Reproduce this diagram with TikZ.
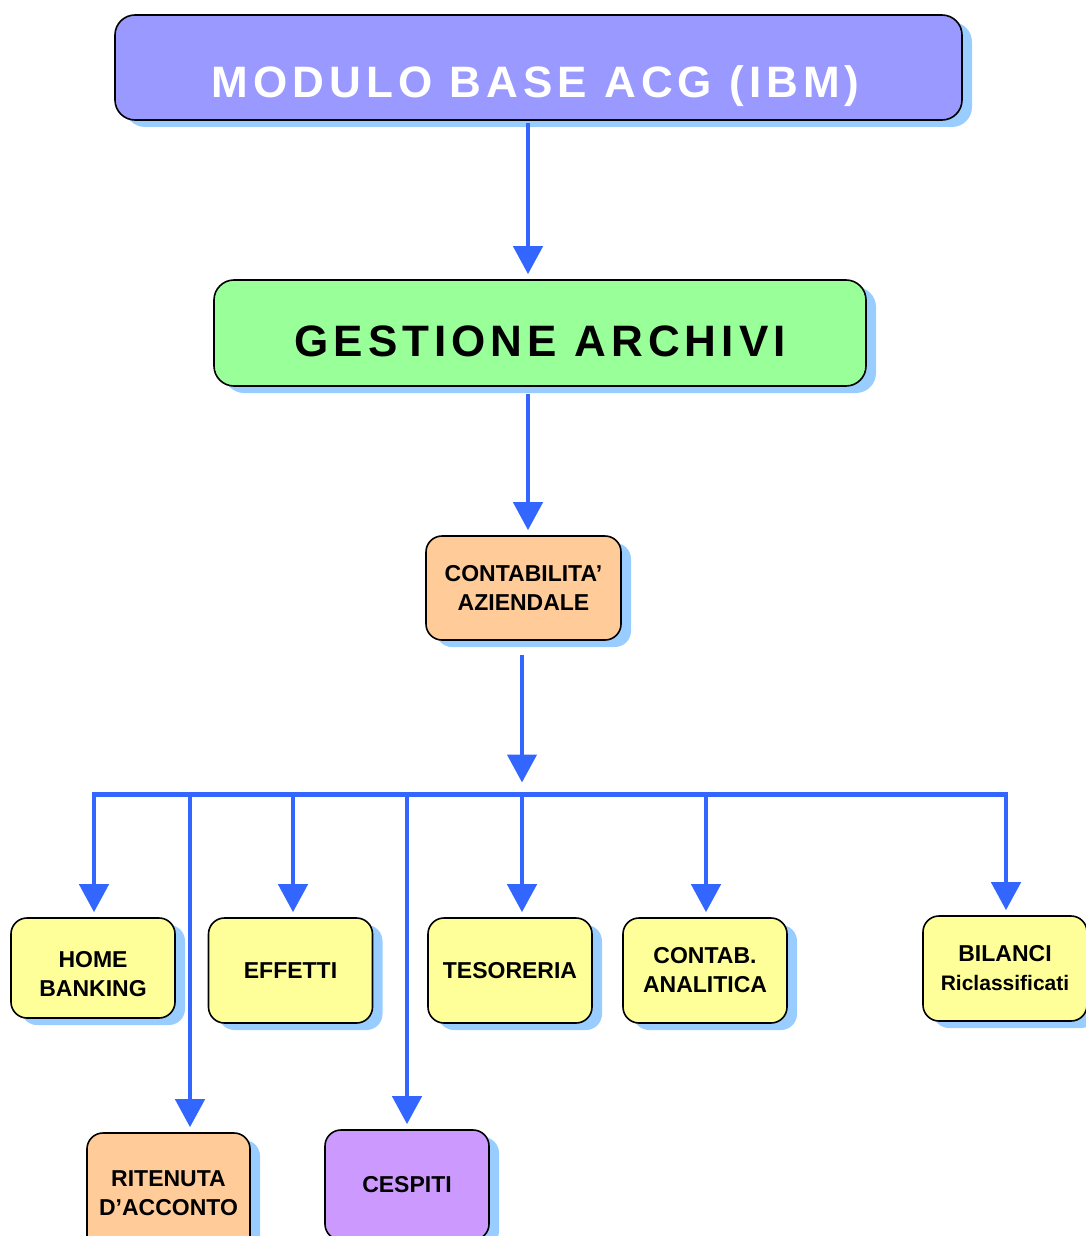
\documentclass[tikz,border=0pt]{standalone}
\usepackage{fontspec}
\setmainfont{Liberation Sans}
\usetikzlibrary{arrows.meta, shadows, positioning}
\definecolor{titleblue}{HTML}{9999FF}
\definecolor{archgreen}{HTML}{99FF99}
\definecolor{contorange}{HTML}{FFCC99}
\definecolor{leafyellow}{HTML}{FFFF99}
\definecolor{cespurple}{HTML}{CC99FF}
\definecolor{shadowblue}{HTML}{99CCFF}
\definecolor{arrowblue}{HTML}{3366FF}
\tikzset{
  box/.style={
    rectangle, draw=black, line width=1.6pt, rounded corners=16pt,
    minimum width=164pt, minimum height=105pt, align=center,
    font=\fontsize{23}{29}\selectfont\bfseries,
    drop shadow={shadow xshift=10pt, shadow yshift=-7pt, fill=shadowblue, opacity=1}
  },
  leaf/.style={box, fill=leafyellow},
  title/.style={box, rounded corners=20pt, inner sep=0pt,
    font=\fontsize{44}{50}\selectfont\bfseries\addfontfeature{LetterSpace=11.5}},
  edge/.style={-{Triangle[length=28pt, width=29pt]}, line width=4.5pt, draw=arrowblue, shorten >=5pt},
  bus/.style={line width=4.5pt, draw=arrowblue, line cap=rect}
}

\begin{document}
\begin{tikzpicture}[x=1pt, y=-1pt]
    \useasboundingbox (0,0) rectangle (1085,1236);
    \node[title, fill=titleblue, text=white, minimum width=847pt, text height=83pt, text depth=22pt] (top) at (538.5,67.5) {MODULO BASE ACG (IBM)\hspace{6pt}};
    \node[title, fill=archgreen, minimum width=652pt, text height=76pt, text depth=30pt] (arch) at (540,333) {GESTIONE ARCHIVI};
    \node[box, fill=contorange, minimum width=195pt, minimum height=104pt] (cont) at (523.5,588) {CONTABILITA’\\AZIENDALE};
    \node[leaf, minimum height=100pt, text height=57pt, text depth=0pt] (home) at (93,968) {HOME\\BANKING};
    \node[leaf] (eff) at (290.5,970.5) {EFFETTI};
    \node[leaf] (tes) at (510,970.5) {TESORERIA};
    \node[leaf] (ana) at (705,970.5) {CONTAB.\\ANALITICA};
    \node[leaf] (bil) at (1005,968.5) {BILANCI\\{\fontsize{21}{24}\selectfont Riclassificati}};
    \node[box, fill=contorange, minimum width=163pt, minimum height=120pt] (rit) at (168.5,1193) {RITENUTA\\D’ACCONTO};
    \node[box, fill=cespurple, minimum height=110pt] (ces) at (407,1185) {CESPITI};

    \coordinate (bus) at (522,794.5);
    \coordinate (dHome) at (94,794.5);
    \coordinate (dRit) at (190,794.5);
    \coordinate (dEff) at (293,794.5);
    \coordinate (dCes) at (407,794.5);
    \coordinate (dAna) at (706,794.5);
    \coordinate (dBil) at (1006,794.5);

    \draw[edge, shorten <=2pt] ([xshift=-10.5pt]top.south) -- ([xshift=-12pt]arch.north);
    \draw[edge, shorten <=7pt] ([xshift=-12pt]arch.south) -- ([xshift=4.5pt]cont.north);
    \draw[edge, shorten <=14pt, shorten >=12pt] ([xshift=-1.5pt]cont.south) -- (bus);
    \draw[bus] (dHome) -- (dBil);
    \draw[edge] (dHome) -- (dHome |- home.north);
    \draw[edge] (dRit) -- (dRit |- rit.north);
    \draw[edge] (dEff) -- (dEff |- eff.north);
    \draw[edge] (dCes) -- (dCes |- ces.north);
    \draw[edge] (bus) -- (bus |- tes.north);
    \draw[edge] (dAna) -- (dAna |- ana.north);
    \draw[edge] (dBil) -- (dBil |- bil.north);
\end{tikzpicture}
\end{document}
